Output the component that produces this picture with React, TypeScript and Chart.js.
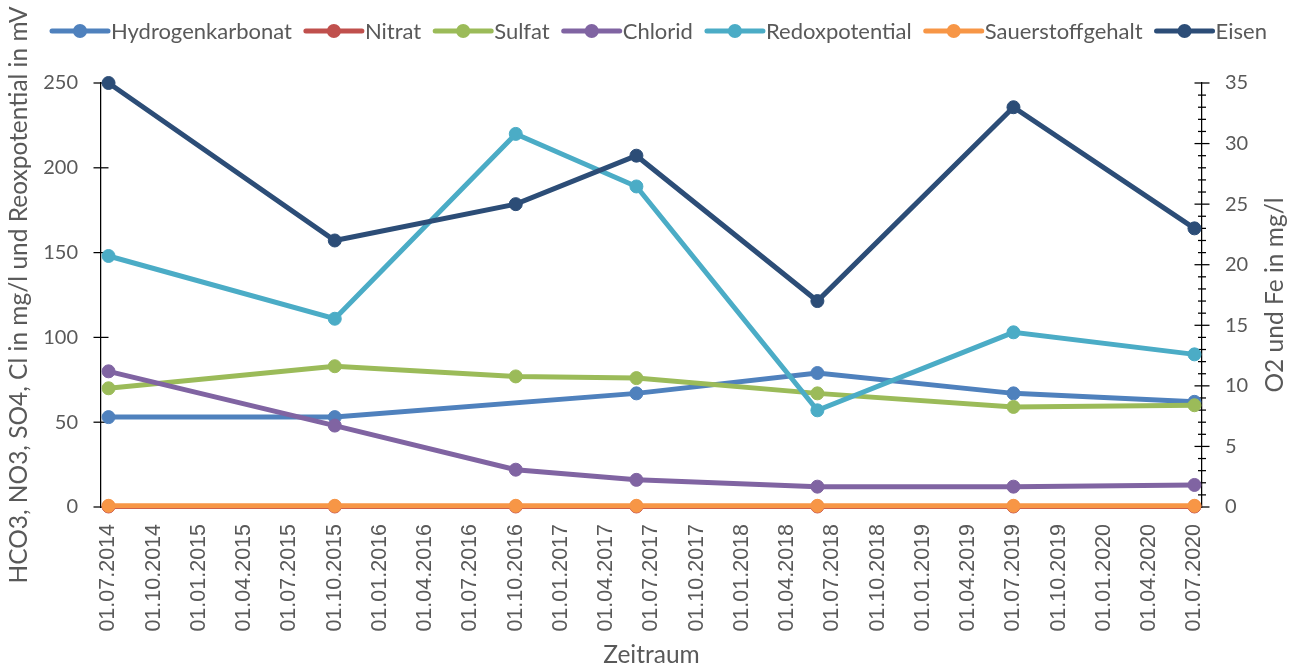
import React, { useEffect, useRef } from "react";
import { Chart, registerables } from "chart.js";

Chart.register(...registerables);

// ---------- data ----------
const sampleDates = ["01.07.2014", "01.10.2015", "01.10.2016", "01.06.2017", "01.06.2018", "01.07.2019", "01.07.2020"];
const hydrogenkarbonat = [53, 53, null, 67, 79, 67, 62];
const nitrat = [0.3, 0.3, 0.3, 0.3, 0.3, 0.3, 0.3];
const sulfat = [70, 83, 77, 76, 67, 59, 60];
const chlorid = [80, 48, 22, 16, 12, 12, 13];
const redoxpotential = [148, 111, 220, 189, 57, 103, 90];
const sauerstoffgehalt = [0.1, 0.1, 0.1, 0.1, 0.1, 0.1, 0.1];
const eisen = [35, 22, 25, 29, 17, 33, 23];

const seriesNames = ["Hydrogenkarbonat", "Nitrat", "Sulfat", "Chlorid", "Redoxpotential", "Sauerstoffgehalt", "Eisen"];
const seriesColors = ["#4F81BD", "#C0504D", "#9BBB59", "#8064A2", "#4BACC6", "#F79646", "#2C4D77"];
const seriesAxes = ["y", "y", "y", "y", "y", "y1", "y1"];

const xTickLabels = [
  "01.07.2014", "01.10.2014", "01.01.2015", "01.04.2015", "01.07.2015", "01.10.2015",
  "01.01.2016", "01.04.2016", "01.07.2016", "01.10.2016", "01.01.2017", "01.04.2017",
  "01.07.2017", "01.10.2017", "01.01.2018", "01.04.2018", "01.07.2018", "01.10.2018",
  "01.01.2019", "01.04.2019", "01.07.2019", "01.10.2019", "01.01.2020", "01.04.2020",
  "01.07.2020",
];
const leftTicks = [0, 50, 100, 150, 200, 250];
const rightTicks = [0, 5, 10, 15, 20, 25, 30, 35];
const rightMinorStep = 1;

const leftTitle = "HCO3, NO3, SO4, Cl in mg/l und Reoxpotential in mV";
const rightTitle = "O2 und Fe in mg/l";
const xTitle = "Zeitraum";

// month index relative to July 2014
function monthIndex(d: string): number {
  const [, mm, yyyy] = d.split(".").map(Number);
  return (yyyy - 2014) * 12 + (mm - 7);
}

const allSeries = [hydrogenkarbonat, nitrat, sulfat, chlorid, redoxpotential, sauerstoffgehalt, eisen];

const TEXT_COLOR = "#595959";
const TITLE_FONT = "24.5px Lato";
const LEGEND_FONT = "22px Lato";

const decorPlugin = {
  id: "decor",
  beforeDatasetsDraw(chart: any) {
    const ctx = chart.ctx as CanvasRenderingContext2D;
    const y = chart.scales.y;
    const y1 = chart.scales.y1;
    ctx.save();
    ctx.strokeStyle = "#000";
    ctx.lineWidth = 1.25;
    const axL = chart.chartArea.left;
    const axR = chart.chartArea.right;
    for (const v of leftTicks) {
      const p = y.getPixelForValue(v);
      ctx.beginPath();
      ctx.moveTo(axL - 7.5, p);
      ctx.lineTo(axL + 7.5, p);
      ctx.stroke();
    }
    const maxR = rightTicks[rightTicks.length - 1];
    for (let v = 0; v <= maxR; v += rightMinorStep) {
      const p = y1.getPixelForValue(v);
      const len = rightTicks.includes(v) ? 7.5 : 4;
      ctx.beginPath();
      ctx.moveTo(axR - len, p);
      ctx.lineTo(axR + len, p);
      ctx.stroke();
    }
    ctx.restore();
  },
  afterDraw(chart: any) {
    const ctx = chart.ctx as CanvasRenderingContext2D;
    const area = chart.chartArea;
    ctx.save();
    // legend
    ctx.font = LEGEND_FONT;
    ctx.textBaseline = "middle";
    ctx.textAlign = "left";
    let x = 52;
    const ly = 31;
    seriesNames.forEach((name, i) => {
      ctx.strokeStyle = seriesColors[i];
      ctx.lineWidth = 5;
      ctx.lineCap = "round";
      ctx.beginPath();
      ctx.moveTo(x, ly);
      ctx.lineTo(x + 56, ly);
      ctx.stroke();
      ctx.fillStyle = seriesColors[i];
      ctx.beginPath();
      ctx.arc(x + 28, ly, 7, 0, Math.PI * 2);
      ctx.fill();
      ctx.fillStyle = TEXT_COLOR;
      ctx.fillText(name, x + 59, ly + 1);
      x += 59 + ctx.measureText(name).width + 14;
    });
    // titles
    ctx.fillStyle = TEXT_COLOR;
    ctx.font = TITLE_FONT;
    ctx.textAlign = "center";
    ctx.textBaseline = "middle";
    const cy = (area.top + area.bottom) / 2;
    ctx.save();
    ctx.translate(19, cy);
    ctx.rotate(-Math.PI / 2);
    ctx.fillText(leftTitle, 0, 0);
    ctx.restore();
    ctx.save();
    ctx.translate(1275, cy);
    ctx.rotate(-Math.PI / 2);
    ctx.fillText(rightTitle, 0, 0);
    ctx.restore();
    ctx.fillText(xTitle, (area.left + area.right) / 2, 655);
    ctx.restore();
  },
};

export default function App() {
  const ref = useRef<HTMLCanvasElement | null>(null);
  useEffect(() => {
    document.body.style.margin = "0";
    const canvas = ref.current;
    if (!canvas) return;
    const xs = sampleDates.map(monthIndex);
    const datasets = seriesNames.map((name, i) => ({
      label: name,
      data: xs.map((xv, k) => ({ x: xv, y: allSeries[i][k] })),
      yAxisID: seriesAxes[i],
      borderColor: seriesColors[i],
      backgroundColor: seriesColors[i],
      pointBackgroundColor: seriesColors[i],
      pointBorderColor: seriesColors[i],
      borderWidth: 5,
      pointRadius: 6.5,
      pointBorderWidth: 1,
      pointHoverRadius: 6.5,
      tension: 0,
      spanGaps: true,
      clip: false as any,
      order: seriesNames.length - i,
    }));
    const tickValues = xTickLabels.map(monthIndex);
    const chart = new Chart(canvas, {
      type: "line",
      data: { datasets },
      plugins: [decorPlugin],
      options: {
        responsive: false,
        animation: false,
        layout: { padding: { top: 83, left: 0, right: 0, bottom: 0 } },
        plugins: { legend: { display: false }, tooltip: { enabled: false } },
        scales: {
          x: {
            type: "linear",
            min: -0.5,
            max: 72.5,
            grid: { display: false, drawTicks: false },
            border: { display: false },
            afterBuildTicks: (scale: any) => {
              scale.ticks = tickValues.map((v) => ({ value: v }));
            },
            afterFit: (scale: any) => {
              scale.height = 161;
            },
            ticks: {
              autoSkip: false,
              minRotation: 90,
              maxRotation: 90,
              padding: 17,
              color: TEXT_COLOR,
              font: { family: "Liberation Sans", size: 21.5 },
              callback: (v: any) => {
                const idx = tickValues.indexOf(Number(v));
                return idx >= 0 ? xTickLabels[idx] : "";
              },
            },
          },
          y: {
            position: "left",
            min: 0,
            max: 250,
            grid: { display: false, drawTicks: false },
            border: { display: true, color: "#000", width: 1.25 },
            afterBuildTicks: (scale: any) => {
              scale.ticks = leftTicks.map((v) => ({ value: v }));
            },
            afterFit: (scale: any) => {
              scale.width = 101;
            },
            ticks: {
              padding: 23,
              color: TEXT_COLOR,
              font: { family: "Lato", size: 20 },
            },
          },
          y1: {
            position: "right",
            min: 0,
            max: 35,
            grid: { display: false, drawTicks: false },
            border: { display: true, color: "#000", width: 1.25 },
            afterBuildTicks: (scale: any) => {
              scale.ticks = rightTicks.map((v) => ({ value: v }));
            },
            afterFit: (scale: any) => {
              scale.width = 93;
            },
            ticks: {
              padding: 23,
              color: TEXT_COLOR,
              font: { family: "Lato", size: 20 },
            },
          },
        },
      } as any,
    });
    return () => chart.destroy();
  }, []);
  return (
    <div style={{ position: "absolute", left: 0, top: 0, width: 1295, height: 668 }}>
      <canvas ref={ref} width={1295} height={668} style={{ display: "block" }} />
    </div>
  );
}
